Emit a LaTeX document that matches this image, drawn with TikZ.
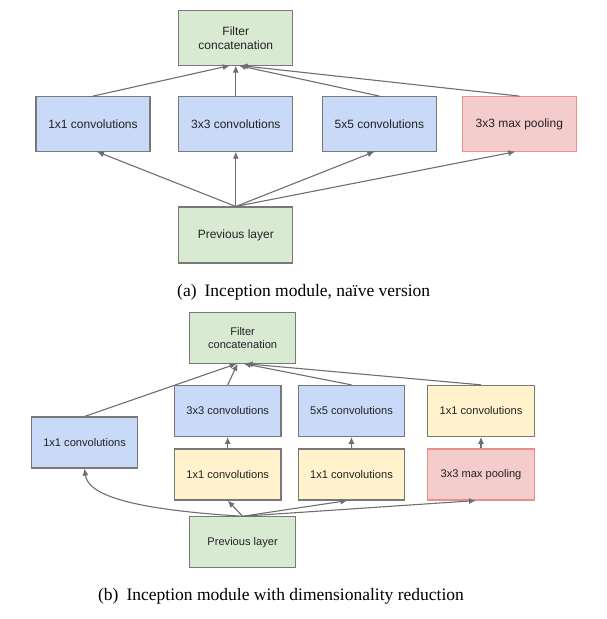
\documentclass[tikz,border=0pt]{standalone}
\usepackage{fontspec}
\setmainfont{Liberation Serif}
\newfontfamily\boxfont{Liberation Sans}
\usetikzlibrary{arrows.meta}
\definecolor{bluef}{HTML}{C9DAF8}
\definecolor{greenf}{HTML}{D9EAD3}
\definecolor{yellowf}{HTML}{FFF2CC}
\definecolor{redf}{HTML}{F4CCCC}
\definecolor{redd}{HTML}{E89090}
\definecolor{edge}{HTML}{787878}
\definecolor{arr}{HTML}{6E6E6E}
\definecolor{txt}{HTML}{222222}
\begin{document}
\begin{tikzpicture}[x=1pt,y=-1pt,
  boxa/.style={draw=edge,line width=1.1pt,minimum width=114pt,minimum height=54.5pt,inner sep=0pt,align=center,text=txt,font=\boxfont\fontsize{12}{14}\selectfont},
  boxb/.style={draw=edge,line width=1.1pt,minimum width=106.5pt,minimum height=51pt,inner sep=0pt,align=center,text=txt,font=\boxfont\fontsize{11.1}{13.3}\selectfont},
  bluebox/.style={fill=bluef},
  greenbox/.style={fill=greenf},
  yellowbox/.style={fill=yellowf},
  redbox/.style={fill=redf,draw=redd},
  conn/.style={draw=arr,line width=1.1pt,-{Latex[length=7pt,width=6pt]}},
  captext/.style={anchor=base,text=black,font=\fontsize{17.5}{20}\selectfont}
]
\useasboundingbox (0,0) rectangle (607,619);
% ---------- (a) ----------
\node[boxa,greenbox] (tf) at (235.8,37.8) {Filter\\concatenation};
\node[boxa,bluebox] (t1) at (93,123.9) {1x1 convolutions};
\node[boxa,bluebox] (t3) at (235.8,123.9) {3x3 convolutions};
\node[boxa,bluebox] (t5) at (379.4,123.9) {5x5 convolutions};
\node[boxa,redbox] (tp) at (519.3,123.9) {3x3 max pooling};
\node[boxa,greenbox,minimum height=56pt] (tprev) at (235.8,235) {Previous layer};
\draw[conn] (tprev.north) -- ([xshift=4pt]t1.south);
\draw[conn] (tprev.north) -- (t3.south);
\draw[conn] (tprev.north) -- ([xshift=-5pt]t5.south);
\draw[conn] (tprev.north) -- ([xshift=-4pt]tp.south);
\draw[conn] (t1.north) -- ([xshift=-6pt]tf.south);
\draw[conn] (t3.north) -- (tf.south);
\draw[conn] (t5.north) -- ([xshift=3pt]tf.south);
\draw[conn] (tp.north) -- ([xshift=5pt]tf.south);
\node[captext] (capa) at (303.7,296.7) {(a)\hspace{8pt}Inception module, naïve version};
% ---------- (b) ----------
\node[boxb,greenbox,minimum height=50.3pt] (bf) at (242.6,338) {Filter\\concatenation};
\node[boxb,bluebox] (bl) at (84.6,442.5) {1x1 convolutions};
\node[boxb,bluebox] (b3) at (227.7,410.9) {3x3 convolutions};
\node[boxb,bluebox] (b5) at (351.5,410.9) {5x5 convolutions};
\node[boxb,yellowbox] (br) at (481,410.9) {1x1 convolutions};
\node[boxb,yellowbox] (r3) at (227.7,474.5) {1x1 convolutions};
\node[boxb,yellowbox] (r5) at (351.5,474.5) {1x1 convolutions};
\node[boxb,redbox] (rp) at (481,474.5) {3x3 max pooling};
\node[boxb,greenbox] (bprev) at (242.6,542.3) {Previous layer};
\draw[conn] (bprev.north) .. controls (140,510) and (88,497) .. (bl.south);
\draw[conn] (bprev.north) -- (r3.south);
\draw[conn] (bprev.north) -- ([xshift=-4pt]r5.south);
\draw[conn] (bprev.north) -- ([xshift=-5pt]rp.south);
\draw[conn] (r3.north) -- (b3.south);
\draw[conn] (r5.north) -- (b5.south);
\draw[conn] (rp.north) -- (br.south);
\draw[conn] (bl.north) -- ([xshift=-6pt]bf.south);
\draw[conn] (b3.north) -- ([xshift=-5pt]bf.south);
\draw[conn] (b5.north) -- ([xshift=1pt]bf.south);
\draw[conn] (br.north) -- ([xshift=3pt]bf.south);
\node[captext] (capb) at (281,600.7) {(b)\hspace{8pt}Inception module with dimensionality reduction};
\end{tikzpicture}
\end{document}
